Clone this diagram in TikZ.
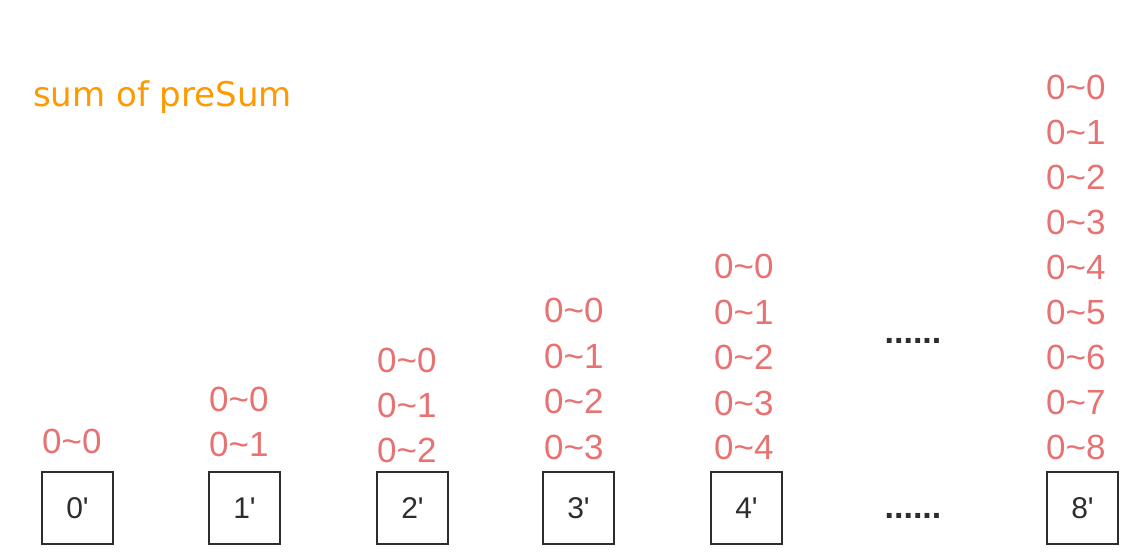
\documentclass[tikz,border=0pt]{standalone}
\usepackage{fontspec}
\setmainfont{Liberation Sans}
\newfontfamily\headfont{DejaVu Sans}
\definecolor{range}{RGB}{232, 114, 114}
\definecolor{title}{RGB}{255, 153, 0}
\definecolor{ink}{RGB}{45, 45, 45}
\usetikzlibrary{positioning}
\tikzset{
  cell/.style={draw=ink, line width=1.8pt, minimum width=71pt, minimum height=72pt,
    inner sep=0pt, text=ink, font=\fontsize{30}{33}\selectfont},
  rng/.style={anchor=west, inner sep=0pt, text=range, font=\fontsize{35}{38}\selectfont},
  gap/.style={inner sep=0pt, text=ink, font=\fontsize{34}{38}\bfseries},
}
\begin{document}
\begin{tikzpicture}[x=1pt, y=-1pt]
  \useasboundingbox (0,0) rectangle (1132,558);
  \node[anchor=west, inner sep=0pt, text=title, font=\headfont\fontsize{34}{38}\selectfont] (head) at (33,97) {sum of preSum};
  % prefix-sum cells
  \foreach \i/\x in {0/77.5, 1/244.5, 2/412.5, 3/578.5, 4/746.5, 8/1082.5}
    \node[cell] (box\i) at (\x,508) {\i\textquotesingle};
  % ranges stacked above each cell
  \node[rng] (r0-0) at (42,441) {0\textasciitilde 0};
  \foreach \k/\y in {0/399, 1/444}
    \node[rng] (r1-\k) at (209,\y) {0\textasciitilde\k};
  \foreach \k/\y in {0/360, 1/405, 2/450}
    \node[rng] (r2-\k) at (377,\y) {0\textasciitilde\k};
  \foreach \k/\y in {0/310, 1/356, 2/401, 3/447}
    \node[rng] (r3-\k) at (544,\y) {0\textasciitilde\k};
  \foreach \k/\y in {0/266, 1/312, 2/357, 3/403, 4/447}
    \node[rng] (r4-\k) at (714,\y) {0\textasciitilde\k};
  \foreach \k in {0,...,8}
    \node[rng] (r8-\k) at (1046,{87+45*\k}) {0\textasciitilde\k};
  % skipped columns
  \node[gap] (dotsTop) at (913,341) {......};
  \node[gap] (dotsBot) at (913,516) {......};
\end{tikzpicture}
\end{document}
